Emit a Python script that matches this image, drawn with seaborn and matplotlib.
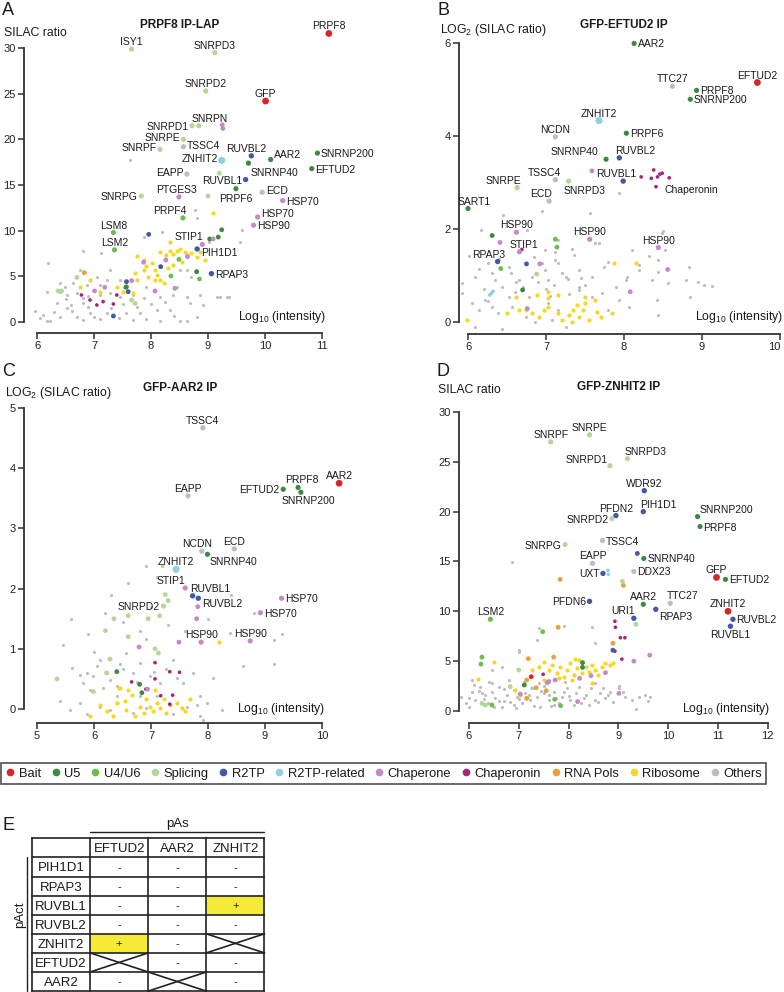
import matplotlib
matplotlib.use("Agg")
import numpy as np
import matplotlib.pyplot as plt
import seaborn as sns
from matplotlib.lines import Line2D
from matplotlib.patches import Rectangle

sns.set_theme(style="ticks")
plt.rcParams["font.family"] = ["Liberation Sans", "DejaVu Sans"]
plt.rcParams["mathtext.default"] = "regular"

W, H = 784, 992
PX = 0.72  # points per pixel at dpi 100

# ---------------- categories ----------------
CAT_CODES = ["bait", "u5", "u46", "spl", "r2", "r2r", "chap", "cpn", "pol", "ribo", "oth"]
CAT_NAMES = ["Bait", "U5", "U4/U6", "Splicing", "R2TP", "R2TP-related", "Chaperone",
             "Chaperonin", "RNA Pols", "Ribosome", "Others"]
PAL = {"bait": "#d7262b", "u5": "#3b8a40", "u46": "#6cbd4f", "spl": "#b5d69a",
       "r2": "#4558a6", "r2r": "#8fd0e3", "chap": "#c48ac6", "cpn": "#a6247e",
       "pol": "#e9a23b", "ribo": "#f5d81f", "oth": "#bdbdbd"}

# ---------------- panel A : PRPF8 IP-LAP ----------------
A_LAB = ["PRPF8", "GFP", "ISY1", "SNRPD3", "SNRPD2", "SNRPD1", "SNRPN", "SNRPE", "TSSC4", "SNRPF",
         "ZNHIT2", "RUVBL2", "AAR2", "SNRNP40", "SNRNP200", "EFTUD2", "EAPP", "RUVBL1", "PRPF6",
         "ECD", "HSP70", "PTGES3", "SNRPG", "PRPF4", "HSP70", "HSP90", "LSM8", "LSM2", "STIP1",
         "PIH1D1", "RPAP3"]
A_LAB_X = [11.12, 10.01, 7.66, 9.12, 8.96, 8.72, 8.84, 8.57, 8.57, 8.16, 9.24, 9.76, 10.1, 9.71,
           10.92, 10.82, 8.63, 9.66, 9.49, 9.95, 10.31, 8.49, 7.83, 8.56, 9.87, 9.8, 7.34, 7.36,
           8.9, 8.81, 9.06]
A_LAB_Y = [31.6, 24.2, 29.9, 29.5, 25.3, 21.5, 21.5, 20.0, 19.2, 18.9, 17.7, 18.2, 17.8, 17.4,
           18.5, 16.8, 16.2, 15.6, 14.6, 14.2, 13.3, 13.7, 13.8, 11.4, 11.5, 10.6, 9.8, 7.9, 8.5,
           8.0, 5.3]
A_LAB_CAT = ["bait", "bait", "spl", "spl", "spl", "spl", "spl", "spl", "oth", "spl", "r2r", "r2",
             "u5", "u5", "u5", "u5", "oth", "r2", "u5", "oth", "chap", "chap", "spl", "u46", "chap",
             "chap", "u46", "u46", "chap", "r2", "r2"]
A_GREY_X = [5.96, 6.05, 6.23, 6.29, 6.52, 6.61, 6.70, 6.81, 6.93, 7.11, 7.22, 7.43, 7.57, 7.69,
            7.81, 7.92, 8.10, 8.16, 8.33, 8.51, 8.63, 8.68, 8.92, 9.21, 9.36, 6.35, 6.17, 6.81,
            6.20, 6.81, 7.13, 6.75, 7.05, 7.28, 7.46, 6.64, 6.87, 7.87, 8.20, 8.77, 8.80, 9.01,
            9.57, 8.51, 8.63, 8.71, 9.15, 9.33, 7.11, 7.22, 6.49, 6.40, 6.52, 6.70, 7.11, 7.28,
            7.46, 7.69, 7.87, 8.16, 8.39, 8.63, 8.86, 6.81, 6.40, 6.17, 7.92, 8.45, 7.63, 9.59,
            6.10, 6.40, 6.60, 6.90, 7.30, 7.50, 7.75, 8.00, 8.25, 8.40, 8.80, 7.00, 6.90, 6.50]
A_GREY_Y = [1.24, 0.40, 0.15, 1.13, 1.50, 1.24, 0.58, 0.22, 0.95, 0.29, 0.95, 0.40, 0.95, 0.22,
            1.02, 0.29, 1.31, 0.15, 1.31, 0.15, 0.15, 2.04, 1.86, 2.77, 2.77, 2.04, 0.15, 2.04,
            6.43, 7.81, 7.59, 5.70, 4.97, 5.70, 4.60, 4.24, 4.05, 9.35, 9.89, 12.27, 11.35, 8.80,
            8.80, 5.70, 5.70, 4.97, 2.70, 2.70, 4.05, 4.60, 3.87, 3.32, 2.96, 3.14, 2.96, 3.14,
            2.77, 2.96, 2.59, 2.77, 2.96, 2.77, 2.96, 2.59, 4.24, 3.32, 3.87, 3.87, 17.7, 10.08,
            0.80, 0.60, 1.90, 1.60, 1.50, 2.00, 1.60, 2.00, 2.20, 0.70, 0.50, 0.60, 2.80, 2.50]
A_RIBO_X = [7.76, 7.87, 7.92, 8.01, 8.07, 8.16, 8.27, 8.33, 8.39, 8.45, 8.51, 8.60, 8.63, 8.71,
            8.80, 8.10, 7.95, 7.75, 8.16, 8.39, 8.54, 8.30, 8.86, 8.95, 9.08, 8.33, 7.87, 7.72,
            8.07, 8.22, 6.93, 6.75, 7.40, 7.11, 7.51, 7.69]
A_RIBO_Y = [7.23, 6.79, 6.13, 6.43, 5.70, 7.70, 7.34, 7.81, 7.45, 7.78, 7.96, 7.70, 7.34, 7.52,
            7.16, 5.15, 4.97, 4.60, 4.60, 6.24, 6.61, 5.88, 7.70, 6.79, 11.9, 8.80, 5.70, 5.33,
            4.60, 4.24, 4.60, 3.87, 3.87, 3.32, 3.32, 3.21]
A_MISC_CAT = ["chap", "chap", "spl", "u5", "u5", "u5", "r2", "chap", "cpn", "cpn", "cpn", "cpn",
              "cpn", "cpn", "r2", "r2", "r2", "r2", "spl", "spl", "spl", "spl", "spl", "spl",
              "chap", "chap", "chap", "chap", "chap", "chap", "chap", "chap", "u46", "u46", "u46",
              "u46", "u5", "u5", "pol"]
A_MISC_X = [9.25, 9.26, 9.20, 9.03, 9.18, 9.24, 7.96, 9.09, 6.78, 6.93, 7.05, 7.16, 7.34, 7.40,
            7.34, 7.60, 8.17, 7.57, 7.66, 7.72, 6.70, 6.37, 6.43, 9.00, 7.87, 8.26, 8.64, 8.07,
            8.42, 7.19, 7.66, 7.01, 8.49, 8.35, 8.85, 7.57, 7.56, 8.80, 6.83]
A_MISC_Y = [21.6, 21.2, 16.3, 9.1, 9.3, 10.1, 9.6, 9.1, 2.96, 2.41, 1.86, 2.23, 1.97, 2.96, 0.66,
            3.32, 6.06, 4.42, 2.41, 2.04, 4.89, 3.40, 3.40, 13.8, 6.54, 6.79, 7.16, 3.40, 3.69,
            3.80, 4.53, 3.40, 6.86, 5.04, 4.71, 3.87, 3.80, 5.51, 5.40]

# ---------------- panel B : GFP-EFTUD2 IP ----------------
B_LAB = ["EFTUD2", "AAR2", "TTC27", "PRPF8", "SNRNP200", "ZNHIT2", "NCDN", "PRPF6", "SNRNP40",
         "RUVBL2", "TSSC4", "SNRPD3", "RUVBL1", "SNRPE", "ECD", "SART1", "HSP90", "HSP90", "HSP90",
         "STIP1", "RPAP3", "Chaperonin"]
B_LAB_X = [9.71, 8.13, 8.62, 8.93, 8.85, 7.68, 7.12, 8.03, 7.77, 7.94, 7.12, 7.29, 7.99, 6.63,
           7.04, 6.0, 6.62, 7.56, 8.44, 6.66, 6.38, 8.41]
B_LAB_Y = [5.15, 5.99, 5.07, 4.98, 4.79, 4.33, 3.98, 4.06, 3.50, 3.53, 3.06, 3.03, 3.03, 2.89,
           2.60, 2.44, 1.93, 1.78, 1.60, 1.51, 1.30, 2.91]
B_LAB_CAT = ["bait", "u5", "oth", "u5", "u5", "r2r", "oth", "u5", "u5", "r2", "oth", "spl", "r2",
             "spl", "oth", "u5", "chap", "chap", "chap", "chap", "r2", "cpn"]
B_GREY_X = [6.45, 6.95, 6.17, 6.01, 6.76, 7.57, 7.68, 7.12, 7.33, 7.93, 8.50, 8.83, 9.02, 9.13,
            7.74, 8.04, 8.19, 8.32, 8.44, 6.14, 6.26, 6.52, 6.99, 7.16, 7.25, 7.42, 7.59, 6.82,
            6.99, 7.16, 5.92, 6.44, 6.65, 7.03, 7.28, 7.42, 7.80, 8.02, 8.19, 8.36, 8.57, 8.79,
            8.95, 6.09, 6.31, 6.95, 7.12, 7.36, 8.44, 8.53, 8.49, 8.10, 7.63, 5.92, 6.05, 6.14,
            6.22, 6.31, 6.39, 6.52, 6.56, 6.74, 6.86, 7.03, 7.08, 7.16, 7.25, 7.59, 7.72, 7.93,
            8.06, 8.42, 8.44, 8.85, 6.09, 6.44, 6.78, 7.42, 7.80, 6.90, 7.00, 7.10, 6.60, 6.70,
            7.30, 7.50, 6.20, 6.35, 7.90, 6.40, 6.55, 6.85, 7.20, 7.05, 6.25, 6.62, 7.45]
B_GREY_Y = [2.30, 2.39, 1.98, 1.41, 1.98, 2.34, 1.69, 1.51, 1.58, 2.78, 1.95, 1.19, 0.80, 0.77,
            1.19, 0.97, 1.23, 1.41, 1.08, 1.15, 1.26, 1.19, 1.12, 1.26, 0.97, 1.12, 0.97, 0.97,
            1.55, 1.76, 0.83, 0.76, 0.90, 0.90, 0.92, 0.76, 1.30, 0.90, 1.12, 0.90, 0.83, 0.90,
            0.85, 0.97, 1.05, 1.26, 1.33, 1.45, 1.33, 1.55, 1.91, 1.55, 1.69, 0.62, 0.40, 0.26,
            0.47, 0.33, 0.19, 0.54, 0.33, 0.11, 0.01, 0.40, 0.04, 0.26, -0.10, 0.54, 0.62, 0.47,
            0.33, 0.47, 0.15, 0.54, -0.10, -0.14, 0.54, 0.69, 0.26, 0.85, 0.70, 0.80, 0.65, 0.75,
            0.60, 0.80, 0.70, 0.90, 0.75, 1.35, 1.05, 1.40, 1.05, 0.55, 0.45, 0.85, 0.95]
B_RIBO_X = [6.50, 6.65, 6.82, 6.91, 6.97, 7.03, 7.16, 7.21, 7.29, 7.35, 7.40, 7.42, 7.48, 7.50,
            7.55, 7.63, 7.70, 7.85, 7.65, 7.33, 6.74, 5.99, 7.03, 6.88, 6.61, 7.03, 7.16, 7.50,
            7.87, 8.16]
B_RIBO_Y = [0.19, 0.26, 0.19, 0.11, 0.26, 0.33, 0.19, 0.04, 0.15, 0.26, 0.37, 0.11, 0.26, 0.40,
            0.04, 0.47, 0.11, 0.19, 0.22, 0.01, 0.26, 0.04, 0.65, 0.58, 0.54, 0.51, 0.58, 0.54,
            1.26, 1.26]
B_MISC_CAT = ["chap", "cpn", "cpn", "cpn", "cpn", "cpn", "cpn", "cpn", "u5", "chap", "cpn", "r2",
              "chap", "u46", "chap", "u46", "u46", "spl", "u5", "chap", "chap", "r2r", "r2r",
              "r2r"]
B_MISC_X = [7.59, 8.22, 8.35, 8.38, 8.43, 8.46, 8.49, 8.58, 6.31, 6.41, 6.69, 6.75, 6.92, 6.42,
            8.56, 7.12, 7.14, 6.88, 6.70, 6.76, 8.08, 6.30, 6.28, 6.32]
B_MISC_Y = [3.25, 3.12, 3.09, 3.27, 3.12, 3.18, 3.20, 3.10, 1.86, 1.71, 1.56, 1.25, 1.25, 1.15,
            1.13, 1.78, 1.61, 1.03, 0.69, 0.29, 0.65, 0.62, 0.58, 0.66]

# ---------------- panel C : GFP-AAR2 IP ----------------
C_LAB = ["TSSC4", "EAPP", "EFTUD2", "PRPF8", "SNRNP200", "AAR2", "NCDN", "ECD", "SNRNP40",
         "ZNHIT2", "STIP1", "RUVBL1", "RUVBL2", "SNRPD2", "HSP70", "HSP70", "HSP90", "HSP90"]
C_LAB_X = [7.91, 7.65, 9.32, 9.58, 9.63, 10.3, 7.89, 8.46, 7.99, 7.44, 7.60, 7.73, 7.83, 7.22,
           9.29, 8.92, 7.88, 8.74]
C_LAB_Y = [4.67, 3.54, 3.65, 3.68, 3.60, 3.75, 2.62, 2.66, 2.57, 2.32, 2.01, 1.88, 1.84, 1.71,
           1.84, 1.60, 1.11, 1.13]
C_LAB_CAT = ["oth", "oth", "u5", "u5", "u5", "bait", "oth", "oth", "u5", "r2r", "chap", "r2", "r2",
             "spl", "chap", "chap", "chap", "chap"]
C_GREY_X = [5.61, 5.75, 5.87, 5.99, 6.05, 6.11, 6.22, 6.28, 6.40, 6.51, 6.57, 6.69, 6.81, 6.92,
            6.98, 7.16, 7.27, 7.39, 7.57, 7.74, 7.86, 7.98, 8.09, 8.24, 8.39, 8.62, 9.15, 9.15,
            6.11, 5.75, 6.28, 6.69, 6.92, 7.39, 7.86, 5.93, 5.81, 6.40, 5.40, 5.58, 5.87, 7.63,
            7.80, 7.92, 7.10, 6.81, 5.46, 6.20, 6.50, 6.80, 7.00, 6.30, 5.90, 7.30, 7.60, 8.00,
            8.40, 6.60, 7.10, 5.60, 8.80, 9.30, 6.00, 6.91, 7.20, 6.15, 6.45, 6.75, 7.05, 7.45]
C_GREY_Y = [0.68, 0.57, 0.60, 0.54, 0.71, 0.82, 0.60, 0.49, 0.38, 0.66, 0.93, 0.60, 0.77, 1.16,
            0.54, 0.43, 0.66, 0.82, 0.43, 0.60, 0.21, 0.10, 0.52, -0.01, 1.27, 0.71, 0.74, 1.14,
            0.04, 0.10, -0.01, -0.07, 0.02, -0.09, -0.12, 0.32, 0.43, 0.21, 0.13, -0.01, -0.09,
            0.04, 0.07, -0.18, 0.21, 0.21, 1.07, 1.60, 1.45, 1.30, 1.70, 1.90, 1.25, 1.40, 1.30,
            1.50, 1.90, 2.10, 2.20, 1.50, 1.60, 1.25, 0.95, 2.38, 2.38, 0.35, 0.75, 0.45, 0.62,
            0.52]
C_RIBO_X = [5.93, 6.11, 6.22, 6.40, 6.46, 6.54, 6.57, 6.66, 6.72, 6.81, 6.87, 6.92, 6.98, 7.04,
            7.10, 7.16, 7.22, 7.27, 7.33, 7.45, 7.54, 7.60, 7.68, 6.43, 6.60, 7.07, 6.34, 8.19]
C_RIBO_Y = [-0.12, 0.07, -0.04, 0.10, 0.35, 0.13, -0.01, 0.24, -0.12, 0.04, -0.07, 0.16, 0.04,
            -0.04, 0.10, 0.02, 0.16, -0.07, 0.07, 0.10, 0.02, -0.04, 0.16, 0.35, 0.32, 0.32,
            -0.12, 1.11]
C_MISC_CAT = ["cpn", "cpn", "cpn", "cpn", "cpn", "cpn", "cpn", "cpn", "cpn", "chap", "chap",
              "chap", "chap", "chap", "spl", "spl", "spl", "spl", "spl", "spl", "spl", "spl",
              "spl", "spl", "spl", "spl", "spl", "spl", "u5", "u5", "u5"]
C_MISC_X = [7.07, 7.07, 7.33, 7.50, 7.17, 7.38, 6.66, 6.91, 7.33, 6.79, 7.49, 6.94, 7.82, 7.80,
            5.35, 6.28, 6.60, 7.07, 7.13, 5.99, 6.22, 7.25, 7.30, 7.15, 6.95, 6.60, 6.20, 6.35,
            6.40, 6.84, 6.80]
C_MISC_Y = [0.77, 0.50, 0.62, 0.61, 0.22, 0.23, 0.45, 0.33, 0.08, 1.03, 1.11, 0.33, 1.70, 1.50,
            0.50, 0.83, 1.20, 1.00, 0.93, 0.29, 0.60, 1.90, 1.80, 1.55, 1.50, 1.55, 1.30, 1.50,
            0.62, 0.27, 0.41]

# ---------------- panel D : GFP-ZNHIT2 IP ----------------
D_LAB = ["SNRPF", "SNRPE", "SNRPD1", "SNRPD3", "WDR92", "PFDN2", "SNRPD2", "PIH1D1", "SNRNP200",
         "PRPF8", "SNRPG", "TSSC4", "SNRNP40", "EAPP", "UXT", "DDX23", "GFP", "EFTUD2", "PFDN6",
         "AAR2", "TTC27", "RPAP3", "URI1", "ZNHIT2", "RUVBL2", "RUVBL1", "LSM2"]
D_LAB_X = [7.64, 8.42, 8.83, 9.18, 9.52, 8.95, 8.87, 9.5, 10.59, 10.64, 7.93, 8.68, 9.51, 8.48,
           8.69, 9.31, 10.97, 11.15, 8.42, 9.5, 10.04, 9.75, 9.31, 11.2, 11.3, 11.25, 6.43]
D_LAB_Y = [27.0, 27.7, 24.6, 25.3, 22.1, 19.6, 19.3, 20.0, 19.5, 18.5, 16.7, 17.1, 15.3, 14.8,
           13.8, 14.0, 13.4, 13.2, 11.0, 10.7, 10.8, 10.2, 9.3, 10.0, 9.2, 8.5, 9.2]
D_LAB_CAT = ["spl", "spl", "spl", "spl", "r2", "r2", "spl", "r2", "u5", "u5", "spl", "oth", "u5",
             "oth", "r2", "oth", "bait", "u5", "r2", "u5", "oth", "r2", "r2", "bait", "r2", "r2",
             "u46"]
D_GREY_X = [5.83, 5.93, 6.06, 6.13, 6.23, 6.33, 6.39, 6.46, 6.53, 6.60, 6.66, 6.76, 6.83, 6.90,
            6.96, 7.06, 7.13, 7.23, 7.30, 7.37, 7.43, 7.50, 7.60, 7.70, 7.80, 7.87, 7.97, 8.03,
            8.14, 8.24, 8.34, 8.44, 8.54, 8.64, 8.74, 8.84, 9.01, 9.14, 9.27, 9.41, 9.54, 9.64,
            9.35, 9.02, 5.99, 6.80, 6.66, 7.00, 7.37, 7.40, 7.90, 8.47, 8.54, 7.00, 6.46, 6.26,
            7.40, 7.93, 8.54, 6.06, 6.46, 7.60, 6.87, 6.30, 6.70, 7.20, 7.65, 8.10, 8.60, 6.95,
            6.10, 6.40, 6.70, 6.90, 7.10, 7.30, 7.50, 7.70, 7.90, 8.20, 8.40, 8.70, 8.90, 9.10,
            6.00, 6.50, 7.00, 7.60, 8.00, 8.30, 8.80, 9.60, 6.20, 6.60, 7.45, 7.75]
D_GREY_Y = [1.44, 0.77, 1.94, 1.10, 2.44, 1.60, 0.77, 1.94, 1.27, 2.44, 0.43, 1.60, 0.94, 2.11,
            1.44, 0.77, 1.77, 1.10, 2.27, 1.44, 0.43, 1.77, 1.10, 1.94, 0.77, 1.44, 2.27, 1.10,
            1.77, 0.77, 1.60, 2.27, 1.10, 1.77, 1.27, 1.94, 2.27, 1.44, 1.10, 1.44, 1.60, 1.44,
            0.17, 2.51, 0.43, 3.11, 4.45, 6.12, 7.12, 8.29, 8.53, 8.46, 6.79, 5.95, 4.11, 1.77,
            2.77, 2.94, 2.77, 3.11, 2.77, 3.11, 14.9, 1.20, 1.05, 1.65, 0.55, 0.60, 0.90, 0.30,
            2.60, 2.90, 2.20, 0.60, 2.90, 0.50, 2.50, 0.60, 1.90, 2.40, 0.60, 2.30, 0.90, 1.90,
            1.30, 0.40, 1.20, 1.60, 1.50, 1.30, 1.60, 1.00, 2.00, 1.00, 2.00, 1.30]
D_RIBO_X = [7.40, 7.50, 7.60, 7.67, 7.77, 7.83, 7.90, 7.97, 8.03, 8.10, 8.17, 8.20, 8.27, 8.34,
            8.40, 8.47, 8.54, 8.60, 8.67, 8.74, 8.84, 8.90, 7.80, 8.07, 8.47, 7.50, 6.93, 6.18,
            6.50, 7.03, 7.27, 8.12]
D_RIBO_Y = [4.45, 4.95, 4.11, 4.61, 3.78, 4.45, 3.44, 4.11, 4.78, 3.61, 4.28, 5.12, 3.78, 4.45,
            3.95, 4.61, 4.11, 3.61, 4.45, 4.78, 4.61, 4.78, 3.28, 3.11, 2.77, 3.11, 2.11, 3.18,
            4.95, 1.60, 4.11, 5.18]
D_MISC_CAT = ["cpn", "cpn", "cpn", "cpn", "cpn", "cpn", "cpn", "pol", "pol", "pol", "pol", "pol",
              "pol", "pol", "pol", "pol", "pol", "r2", "r2", "r2r", "r2r", "r2r", "spl", "spl",
              "spl", "spl", "spl", "spl", "u46", "u46", "u46", "u46", "u46", "u46", "u5", "u5",
              "u5", "chap", "chap", "chap", "chap", "chap", "chap", "chap", "chap", "chap", "chap",
              "chap", "bait"]
D_MISC_X = [8.93, 8.94, 9.04, 9.13, 8.93, 9.07, 7.49, 7.83, 9.10, 8.89, 7.79, 7.19, 7.70, 7.16,
            7.35, 7.55, 7.16, 9.38, 8.89, 8.79, 8.80, 7.27, 9.08, 9.35, 6.26, 6.33, 6.83, 7.00,
            7.48, 6.24, 6.26, 7.72, 7.84, 6.46, 8.28, 8.28, 7.11, 9.31, 9.63, 7.60, 7.73, 8.22,
            8.45, 8.74, 9.01, 8.18, 7.03, 7.57, 7.25]
D_MISC_Y = [9.0, 8.4, 7.35, 7.35, 6.0, 5.2, 3.68, 13.2, 12.6, 6.8, 8.4, 5.25, 5.4, 3.11, 2.34,
            2.04, 1.27, 15.8, 6.1, 14.1, 13.7, 2.27, 13.0, 8.7, 0.77, 0.60, 2.44, 4.11, 7.95, 4.7,
            5.4, 1.17, 0.53, 0.60, 4.85, 4.38, 2.61, 5.0, 5.6, 2.94, 3.11, 3.28, 3.54, 3.84, 1.77,
            0.94, 1.70, 2.84, 3.44]

# ---------------- table E ----------------
TAB_COLS = ["EFTUD2", "AAR2", "ZNHIT2"]
TAB_ROWS = ["PIH1D1", "RPAP3", "RUVBL1", "RUVBL2", "ZNHIT2", "EFTUD2", "AAR2"]
TAB_VALS = [["-", "-", "-"],
            ["-", "-", "-"],
            ["-", "-", "+"],
            ["-", "-", "-"],
            ["+", "-", "x"],
            ["x", "-", "-"],
            ["-", "x", "-"]]

# ---------------- layout helpers ----------------
SIZE_GREY, SIZE_RIBO = 5, 9
SIZE_MISC = {"bait": 12, "u5": 12, "u46": 12, "spl": 12, "r2": 12, "r2r": 7, "chap": 12, "cpn": 7,
             "pol": 12, "ribo": 9, "oth": 6}
SIZE_LAB = {"bait": 24, "u5": 14, "u46": 14, "spl": 14, "r2": 15, "r2r": 26, "chap": 14, "cpn": 7,
            "pol": 14, "ribo": 10, "oth": 14}
ANCHORS = {"n": (0, 4, "center", "baseline"), "s": (0, -4, "center", "top"),
           "e": (3.5, 0, "left", "center_baseline"), "w": (-3.5, 0, "right", "center_baseline"),
           "ne": (2, 3, "left", "baseline"), "nw": (-2, 3, "right", "baseline"),
           "se": (2, -3, "left", "top")}

A_POS = ["n", "n", "n", "n", "n", "w", ("n", 11, 0), ("w", 0, 2), ("e", 0, 2), ("w", 0, 2),
         ("w", 0, 2), ("n", -5, 0), ("e", 0, 5), ("se", 0, -2), "e", "e", ("w", 0, 2), "w",
         ("s", 0, -1), ("e", 0, 2), "e", ("n", -2, 0), "w", ("n", -13, 0), ("e", 0, 4), "e", "n",
         "n", ("n", -13, 0), ("e", 0, -3), "e"]
B_POS = ["n", "e", "n", "e", "e", "n", "n", "e", ("nw", -6, 1), ("n", 16, 0), ("n", -11, 0),
         ("s", 16, -1), ("n", -7, 0), ("n", -14, 0), ("n", -8, 0), ("n", 6, 0), "n", "n", "n",
         ("n", 4, 0), ("n", -9, 0), ("e", 5, -2)]
C_POS = ["n", "n", "w", ("n", 4, 0), ("s", 7, 0), "n", ("n", -5, 0), "n", "se", "n",
         ("n", -14, 0), ("n", 18, 0), ("e", 0, -5), "w", "e", "e", "n", "n"]
D_POS = ["n", "n", "nw", ("n", 18, 0), "n", "n", "w", ("n", 15, 0), ("n", 29, 0), "e", "w", "e",
         "e", "n", "w", "e", "n", "e", "w", "n", ("n", 12, 0), ("se", 1, 0), ("n", -11, 0), "n",
         "e", "s", "n"]


def fx(px):
    return px / W


def fy(py):
    return 1 - py / H


def make_axes(fig, xmap, ymap, xlim, ylim):
    # xmap/ymap = (pixel, value, pixels per unit)
    left = xmap[0] + (xlim[0] - xmap[1]) * xmap[2]
    right = xmap[0] + (xlim[1] - xmap[1]) * xmap[2]
    bottom = ymap[0] - (ylim[0] - ymap[1]) * ymap[2]
    top = ymap[0] - (ylim[1] - ymap[1]) * ymap[2]
    ax = fig.add_axes([left / W, 1 - bottom / H, (right - left) / W, (bottom - top) / H])
    ax.set_facecolor("none")
    return ax


def draw_panel(ax, xlim, ylim, xticks, yticks, grey, ribo, misc, lab, pos):
    sns.scatterplot(x=grey[0], y=grey[1], color=PAL["oth"], s=SIZE_GREY, linewidth=0, ax=ax)
    sns.scatterplot(x=ribo[0], y=ribo[1], color=PAL["ribo"], s=SIZE_RIBO, linewidth=0, ax=ax)
    sns.scatterplot(x=misc[1], y=misc[2], hue=misc[0], palette=PAL, size=misc[0],
                    sizes=SIZE_MISC, linewidth=0, legend=False, ax=ax)
    sns.scatterplot(x=lab[1], y=lab[2], hue=lab[3], palette=PAL, size=lab[3],
                    sizes=SIZE_LAB, linewidth=0, legend=False, ax=ax)
    for name, x, y, p in zip(lab[0], lab[1], lab[2], pos):
        code, ddx, ddy = (p, 0, 0) if isinstance(p, str) else p
        dx, dy, ha, va = ANCHORS[code]
        ax.annotate(name, (x, y), xytext=((dx + ddx) * PX, (dy + ddy) * PX),
                    textcoords="offset points", ha=ha, va=va, fontsize=7.5, color="#1a1a1a")
    ax.set_xlim(xlim)
    ax.set_ylim(ylim)
    ax.set_xticks(xticks)
    ax.set_yticks(yticks)
    ax.set_xlabel("")
    ax.set_ylabel("")
    sns.despine(ax=ax)
    ax.spines["left"].set_bounds(yticks[0], yticks[-1])
    ax.spines["bottom"].set_bounds(xticks[0], xticks[-1])
    for s in ["left", "bottom"]:
        ax.spines[s].set_linewidth(1.3)
        ax.spines[s].set_color("#333333")
    ax.tick_params(length=4, width=1.1, color="#333333", labelsize=8, labelcolor="#222222", pad=2)


fig = plt.figure(figsize=(W / 100, H / 100), dpi=100)

axA = make_axes(fig, (37, 6, 57), (322, 0, 9.13), (5.772, 11.4), (-1.2, 33))
draw_panel(axA, (5.772, 11.4), (-1.2, 33), range(6, 12), range(0, 31, 5),
           (A_GREY_X, A_GREY_Y), (A_RIBO_X, A_RIBO_Y), (A_MISC_CAT, A_MISC_X, A_MISC_Y),
           (A_LAB, A_LAB_X, A_LAB_Y, A_LAB_CAT), A_POS)

axB = make_axes(fig, (468, 6, 78), (322, 0, 46.5), (5.885, 10.05), (-0.258, 6.6))
draw_panel(axB, (5.885, 10.05), (-0.258, 6.6), range(6, 11), range(0, 7, 2),
           (B_GREY_X, B_GREY_Y), (B_RIBO_X, B_RIBO_Y), (B_MISC_CAT, B_MISC_X, B_MISC_Y),
           (B_LAB, B_LAB_X, B_LAB_Y, B_LAB_CAT), B_POS)
# the last tick label sits at the page edge
axB.get_xticklabels()[-1].set_horizontalalignment("right")

axC = make_axes(fig, (37, 5, 57), (709, 0, 60.2), (4.772, 10.6), (-0.233, 5.3))
draw_panel(axC, (4.772, 10.6), (-0.233, 5.3), range(5, 11), range(0, 6),
           (C_GREY_X, C_GREY_Y), (C_RIBO_X, C_RIBO_Y), (C_MISC_CAT, C_MISC_X, C_MISC_Y),
           (C_LAB, C_LAB_X, C_LAB_Y, C_LAB_CAT), C_POS)

axD = make_axes(fig, (469, 6, 49.8), (711, 0, 9.97), (5.8, 12.2), (-1.2, 31.5))
draw_panel(axD, (5.8, 12.2), (-1.2, 31.5), range(6, 13), range(0, 31, 5),
           (D_GREY_X, D_GREY_Y), (D_RIBO_X, D_RIBO_Y), (D_MISC_CAT, D_MISC_X, D_MISC_Y),
           (D_LAB, D_LAB_X, D_LAB_Y, D_LAB_CAT), D_POS)

# panel letters, titles and axis labels
txt = dict(color="#1a1a1a")
for letter, px, py in [("A", 2, 15), ("B", 437, 15), ("C", 2, 376), ("D", 436, 376), ("E", 2, 830)]:
    fig.text(fx(px), fy(py), letter, fontsize=13, va="baseline", **txt)
for title, px, py in [("PRPF8 IP-LAP", 180, 28), ("GFP-EFTUD2 IP", 624, 28),
                      ("GFP-AAR2 IP", 180, 391), ("GFP-ZNHIT2 IP", 619, 390)]:
    fig.text(fx(px), fy(py), title, fontsize=8.5, fontweight="bold", ha="center", va="baseline", **txt)
for lab, px, py in [("SILAC ratio", 4, 36), ("LOG$_2$ (SILAC ratio)", 440, 33),
                    ("LOG$_2$ (SILAC ratio)", 5, 396), ("SILAC ratio", 438, 393)]:
    fig.text(fx(px), fy(py), lab, fontsize=8.8, va="baseline", **txt)
for px, py in [(326, 320), (783, 320), (325, 712), (770, 712)]:
    fig.text(fx(px), fy(py), "Log$_{10}$ (intensity)", fontsize=8.8, ha="right", va="baseline", **txt)

# legend
handles = [Line2D([], [], ls="", marker="o", ms=4.5, mfc=PAL[c], mec=PAL[c]) for c in CAT_CODES]
leg = fig.legend(handles, CAT_NAMES, loc="center", bbox_to_anchor=(fx(383.5), fy(773.5)),
                 ncol=len(CAT_NAMES), fontsize=9.3, frameon=True, fancybox=False,
                 handlelength=0.8, handletextpad=0.25, columnspacing=0.75, borderpad=0.35,
                 borderaxespad=0)
leg.get_frame().set_edgecolor("#222222")
leg.get_frame().set_linewidth(1.2)
for t in leg.get_texts():
    t.set_color("#1a1a1a")

# table E drawn in pixel coordinates
tab = fig.add_axes([0, 0, 1, 1])
tab.set_xlim(0, W)
tab.set_ylim(H, 0)
tab.axis("off")
TAB_LEFT, TAB_TOP, CELL_W, CELL_H = 32, 838.3, 58.1, 19.1
xe = TAB_LEFT + np.arange(len(TAB_COLS) + 2) * CELL_W
ye = TAB_TOP + np.arange(len(TAB_ROWS) + 2) * CELL_H
line = dict(color="#222222", lw=1.2, clip_on=False, solid_capstyle="projecting")
for j, col in enumerate(TAB_COLS):
    tab.text((xe[j + 1] + xe[j + 2]) / 2, (ye[0] + ye[1]) / 2, col, ha="center",
             va="center_baseline", fontsize=9.5, **txt)
for i, row in enumerate(TAB_ROWS):
    tab.text((xe[0] + xe[1]) / 2, (ye[i + 1] + ye[i + 2]) / 2, row, ha="center",
             va="center_baseline", fontsize=9.5, **txt)
    for j, v in enumerate(TAB_VALS[i]):
        x0, y0 = xe[j + 1], ye[i + 1]
        if v == "x":
            tab.plot([x0, x0 + CELL_W], [y0, y0 + CELL_H], **line)
            tab.plot([x0, x0 + CELL_W], [y0 + CELL_H, y0], **line)
            continue
        if v == "+":
            tab.add_patch(Rectangle((x0, y0), CELL_W, CELL_H, fc="#f6ea38", ec="none"))
        tab.text(x0 + CELL_W / 2, y0 + CELL_H / 2, v, ha="center", va="center_baseline",
                 fontsize=8, **txt)
for x in xe:
    tab.plot([x, x], [ye[0], ye[-1]], **line)
for y in ye:
    tab.plot([xe[0], xe[-1]], [y, y], **line)
tab.plot([xe[1], xe[-1]], [832, 832], color="#222222", lw=1)
tab.text((xe[1] + xe[-1]) / 2, 827, "pAs", ha="center", va="baseline", fontsize=9.5, **txt)
tab.plot([27, 27], [ye[1], ye[-1]], color="#222222", lw=1)
tab.text(20, (ye[1] + ye[-1]) / 2 - 10, "pAct", rotation=90, ha="center", va="center",
         fontsize=9.5, **txt)

fig.savefig("out.png", dpi=100)
